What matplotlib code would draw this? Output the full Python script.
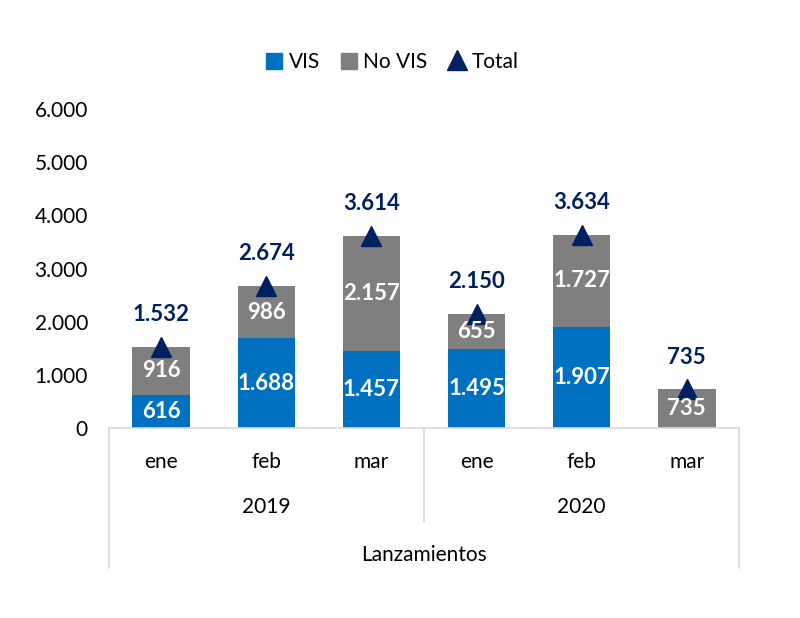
import numpy as np
import matplotlib
matplotlib.use("Agg")
import matplotlib.pyplot as plt
from matplotlib.lines import Line2D
from matplotlib.patches import Patch
import matplotlib.transforms as mtransforms

plt.rcParams['font.family'] = ['Lato', 'DejaVu Sans']

months = ["ene", "feb", "mar", "ene", "feb", "mar"]
years = ["2019", "2020"]
vis = [616, 1688, 1457, 1495, 1907, 0]
no_vis = [916, 986, 2157, 655, 1727, 735]
total = [1532, 2674, 3614, 2150, 3634, 735]
group_label = "Lanzamientos"

c_vis = "#0070C0"
c_novis = "#7F7F7F"
c_total = "#002060"
c_line = "#D9D9D9"

def fmt(v):
    # separador de miles con punto
    return f"{v:,}".replace(",", ".")

fig = plt.figure(figsize=(8, 6.18), dpi=100)
ax = fig.add_axes([0.136, 0.3074, 0.788, 0.5162])

x = np.arange(len(months))
w = 0.55
ax.bar(x, vis, w, color=c_vis, label="VIS")
ax.bar(x, no_vis, w, bottom=vis, color=c_novis, label="No VIS")
ax.plot(x, total, linestyle="none", marker="^", markersize=14, color=c_total, label="Total")

# etiquetas dentro de las barras
for i in range(len(x)):
    if vis[i] > 0:
        ax.text(x[i], vis[i] / 2, fmt(vis[i]), ha="center", va="center",
                color="white", fontsize=16, fontweight="bold")
    if no_vis[i] > 0:
        ax.text(x[i], vis[i] + no_vis[i] / 2, fmt(no_vis[i]), ha="center", va="center",
                color="white", fontsize=16, fontweight="bold")
    ax.text(x[i], total[i] + 600, fmt(total[i]), ha="center", va="center",
            color=c_total, fontsize=16, fontweight="bold")

ax.set_xlim(-0.5, len(x) - 0.5)
ax.set_ylim(0, 6000)
ax.set_yticks(np.arange(0, 6001, 1000))
ax.set_yticklabels([fmt(v) for v in range(0, 6001, 1000)], fontsize=15)
ax.tick_params(axis="y", length=0, pad=15)
ax.set_xticks([])
for s in ["top", "right", "left"]:
    ax.spines[s].set_visible(False)
ax.spines["bottom"].set_color(c_line)
ax.spines["bottom"].set_linewidth(1.2)

# eje multinivel
trans = mtransforms.blended_transform_factory(ax.transData, ax.transAxes)
for xi in [-0.5, len(x) - 0.5]:
    ax.plot([xi, xi], [0, -0.44], transform=trans, color=c_line, lw=1.2, clip_on=False)
ax.plot([2.5, 2.5], [0, -0.295], transform=trans, color=c_line, lw=1.2, clip_on=False)

for i, m in enumerate(months):
    ax.text(x[i], -0.107, m, transform=trans, ha="center", va="center", fontsize=15)
for j, yr in enumerate(years):
    ax.text(1 + 3 * j, -0.248, yr, transform=trans, ha="center", va="center", fontsize=15)
ax.text(2.5, -0.398, group_label, transform=trans, ha="center", va="center", fontsize=15)

handles = [Patch(color=c_vis, label="VIS"), Patch(color=c_novis, label="No VIS"),
           Line2D([], [], linestyle="none", marker="^", markersize=14, color=c_total, label="Total")]
fig.legend(handles=handles, loc="center", bbox_to_anchor=(0.49, 0.900), ncol=3,
           frameon=False, fontsize=15, handlelength=0.8, handleheight=0.8,
           handletextpad=0.3, columnspacing=1.0)

fig.savefig("out.png", dpi=100)
